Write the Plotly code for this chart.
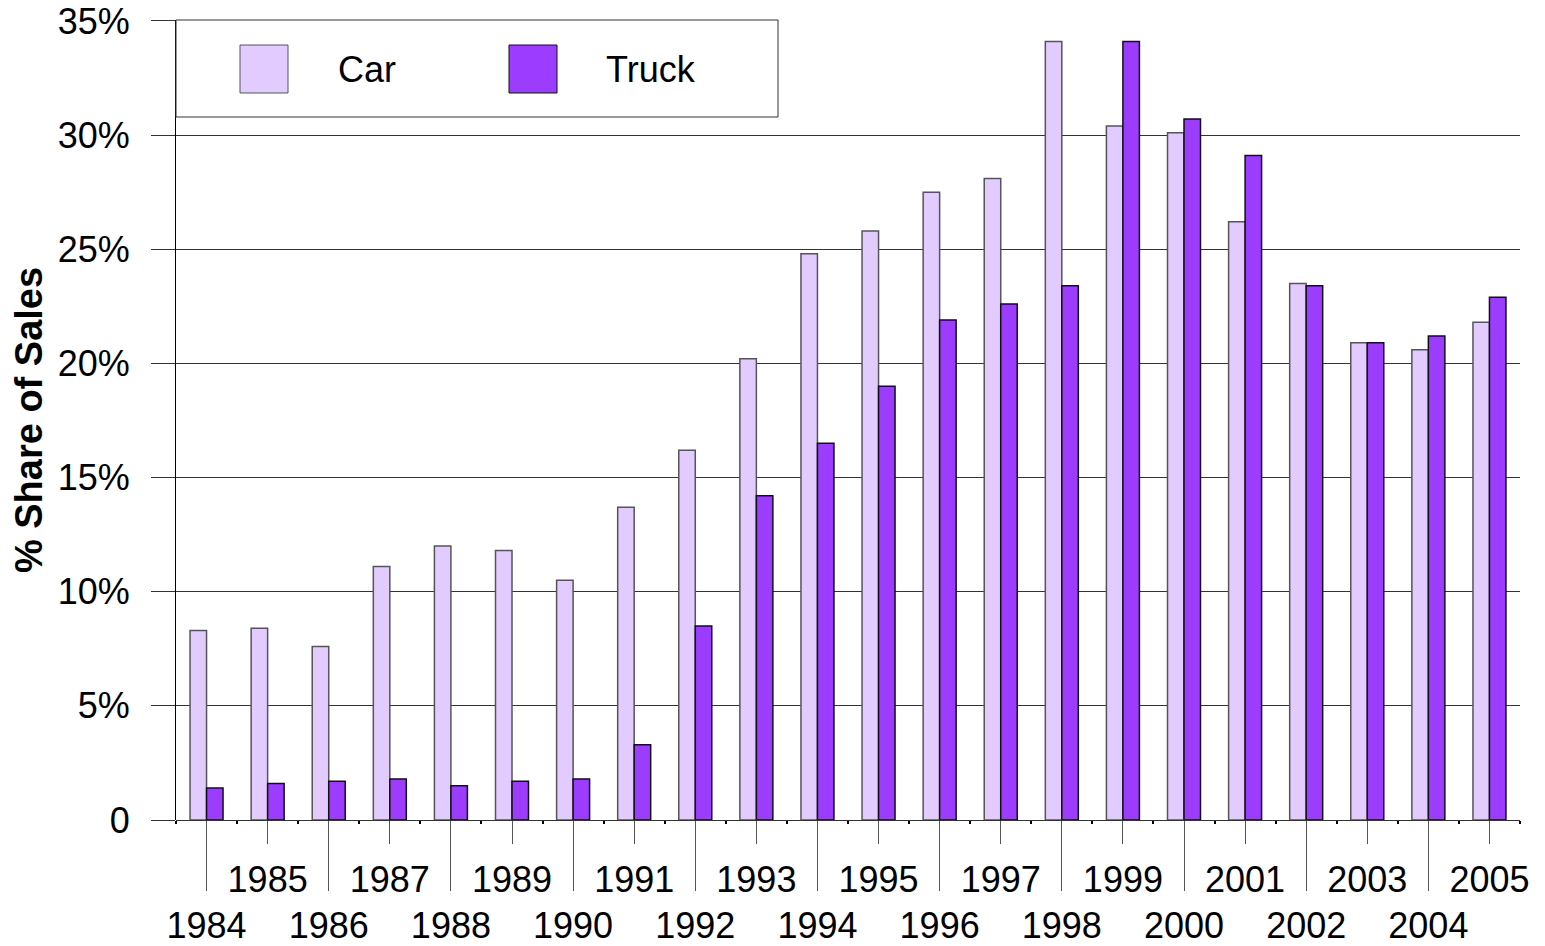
import plotly.graph_objects as go

years = list(range(1984, 2006))
car = [8.3, 8.4, 7.6, 11.1, 12.0, 11.8, 10.5, 13.7, 16.2, 20.2, 24.8,
       25.8, 27.5, 28.1, 34.1, 30.4, 30.1, 26.2, 23.5, 20.9, 20.6, 21.8]
truck = [1.4, 1.6, 1.7, 1.8, 1.5, 1.7, 1.8, 3.3, 8.5, 14.2, 16.5,
         19.0, 21.9, 22.6, 23.4, 34.1, 30.7, 29.1, 23.4, 20.9, 21.2, 22.9]
y_ticks = [0, 5, 10, 15, 20, 25, 30, 35]
y_tick_text = ["0", "5%", "10%", "15%", "20%", "25%", "30%", "35%"]
even_years = [y for y in years if y % 2 == 0]
odd_years = [y for y in years if y % 2 == 1]

OFF = 8  # page body margin
W, H = 1545 - OFF, 946 - OFF
ML, MR, MT, MB = 176 - OFF, 25, 20 - OFF, 126
PW, PH = W - ML - MR, H - MT - MB
FONT = "Liberation Sans, Arial, sans-serif"
CAR_C, TRUCK_C = "#E2CCFF", "#9B3CFF"
GRID_C = "#333333"


def px_x(px):
    return (px - OFF - ML) / PW


def px_y(py):
    return 1 - (py - OFF - MT) / PH


fig = go.Figure()
fig.add_trace(go.Bar(x=years, y=car, name="Car", marker=dict(color=CAR_C, line=dict(color="#555555", width=1.5))))
fig.add_trace(go.Bar(x=years, y=truck, name="Truck", marker=dict(color=TRUCK_C, line=dict(color="#111111", width=1.5))))
# invisible trace to activate second x-axis for odd-year labels
fig.add_trace(go.Scatter(x=[years[0]], y=[0], xaxis="x2", mode="markers",
                         marker=dict(opacity=0), showlegend=False, hoverinfo="skip"))

xr = [years[0] - 0.5, years[-1] + 0.5]
fig.update_layout(
    width=W, height=H,
    margin=dict(l=ML, r=MR, t=MT, b=MB, autoexpand=False),
    paper_bgcolor="white", plot_bgcolor="white",
    barmode="group", bargap=0.46, bargroupgap=0,
    showlegend=False,
    font=dict(family=FONT, size=36, color="black"),
    xaxis=dict(range=xr, tickmode="array", tickvals=even_years,
               ticktext=[str(y) for y in even_years],
               ticks="outside", ticklen=70, tickwidth=1, tickcolor="#555555",
               ticklabelstandoff=4, ticklabeloverflow="allow",
               showgrid=False, zeroline=False, showline=False,
               minor=dict(tickmode="linear", tick0=years[0] + 0.5, dtick=1,
                          ticks="outside", ticklen=3, tickwidth=2, tickcolor="black", showgrid=False),
               tickfont=dict(size=36), automargin=False),
    xaxis2=dict(range=xr, overlaying="x", anchor="y", side="bottom",
                tickmode="array", tickvals=odd_years, ticktext=[str(y) for y in odd_years],
                ticks="outside", ticklen=23, tickwidth=1, tickcolor="#555555",
                ticklabelstandoff=5, ticklabeloverflow="allow",
                showgrid=False, zeroline=False, showline=False,
                tickfont=dict(size=36), automargin=False),
    yaxis=dict(range=[0, 35.04], tickmode="array", tickvals=y_ticks, ticktext=y_tick_text,
               ticks="outside", ticklen=24, tickwidth=1, tickcolor=GRID_C,
               ticklabelstandoff=14, ticklabeloverflow="allow",
               showgrid=True, gridcolor=GRID_C, gridwidth=1,
               zeroline=True, zerolinecolor=GRID_C, zerolinewidth=1,
               showline=True, linecolor="black", linewidth=1,
               tickfont=dict(size=36), automargin=False,
               title=dict(text="<b>% Share of Sales</b>", font=dict(size=38), standoff=5)),
)

# custom legend (box, swatches, labels)
shapes = [
    dict(type="rect", xref="paper", yref="paper", x0=px_x(176), x1=px_x(778), y0=px_y(117), y1=px_y(20),
         line=dict(color="#333333", width=1), fillcolor="white", layer="above"),
    dict(type="rect", xref="paper", yref="paper", x0=px_x(240), x1=px_x(288), y0=px_y(93), y1=px_y(45),
         line=dict(color="#555555", width=1), fillcolor=CAR_C, layer="above"),
    dict(type="rect", xref="paper", yref="paper", x0=px_x(509), x1=px_x(557), y0=px_y(93), y1=px_y(45),
         line=dict(color="#111111", width=1), fillcolor=TRUCK_C, layer="above"),
]
fig.update_layout(shapes=shapes)
fig.add_annotation(xref="paper", yref="paper", x=px_x(336), y=px_y(69), text="Car",
                   showarrow=False, xanchor="left", yanchor="middle", font=dict(size=36))
fig.add_annotation(xref="paper", yref="paper", x=px_x(604), y=px_y(69), text="Truck",
                   showarrow=False, xanchor="left", yanchor="middle", font=dict(size=36))

fig.write_html("out.html")
